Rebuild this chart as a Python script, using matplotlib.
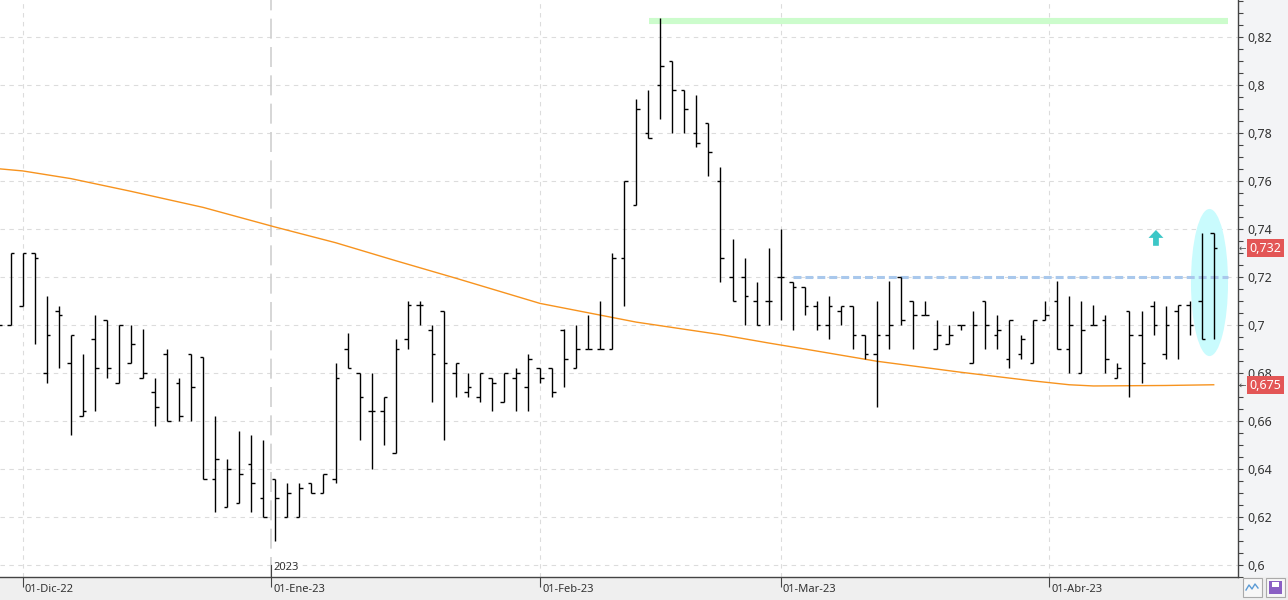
import matplotlib; matplotlib.use("Agg")
import matplotlib.pyplot as plt
from matplotlib.patches import Ellipse, Polygon, Rectangle
import numpy as np

plt.rcParams['font.family'] = ['Noto Sans', 'DejaVu Sans']

# OHLC diario (indice de sesion, 0 = 29-Nov-22)
opens  = [0.700,0.700,0.708,0.730,0.680,0.706,0.684,0.662,0.694,0.702,0.676,0.684,0.678,0.672,0.688,0.676,0.688,0.6865,0.636,0.624,
          0.626,0.642,0.628,0.636,0.620,0.620,0.634,0.630,0.636,0.690,0.680,0.664,0.664,0.6465,0.694,0.7085,0.698,0.706,0.680,0.672,
          0.670,0.678,0.668,0.678,0.674,0.682,0.682,0.698,0.682,0.690,0.690,0.690,0.728,0.750,0.780,0.800,0.810,0.798,0.780,0.784,
          0.760,0.720,0.720,0.710,0.710,0.720,0.718,0.716,0.708,0.700,0.706,0.708,0.696,0.688,0.696,0.720,0.710,0.704,0.690,0.692,
          0.700,0.684,0.710,0.696,0.686,0.688,0.684,0.702,0.710,0.690,0.680,0.700,0.702,0.678,0.706,0.696,0.708,0.688,0.706,0.7085,
          0.710,0.7385]
highs  = [0.700,0.730,0.730,0.730,0.712,0.708,0.696,0.688,0.704,0.702,0.700,0.700,0.6985,0.678,0.690,0.678,0.688,0.6865,0.662,0.644,
          0.656,0.654,0.652,0.636,0.634,0.634,0.634,0.638,0.684,0.6965,0.680,0.680,0.670,0.694,0.710,0.710,0.700,0.706,0.684,0.680,
          0.680,0.678,0.680,0.682,0.688,0.682,0.682,0.6985,0.700,0.704,0.710,0.730,0.760,0.794,0.798,0.828,0.810,0.798,0.796,0.784,
          0.766,0.736,0.728,0.718,0.732,0.740,0.718,0.716,0.710,0.712,0.708,0.708,0.696,0.710,0.7185,0.720,0.710,0.710,0.702,0.700,
          0.700,0.706,0.710,0.704,0.702,0.696,0.702,0.710,0.7185,0.712,0.710,0.7085,0.704,0.684,0.706,0.706,0.710,0.708,0.7085,0.710,
          0.7385,0.7385]
lows   = [0.700,0.700,0.708,0.692,0.676,0.682,0.654,0.662,0.664,0.678,0.676,0.684,0.678,0.658,0.660,0.660,0.660,0.636,0.622,0.624,
          0.626,0.622,0.620,0.610,0.620,0.620,0.630,0.630,0.634,0.682,0.652,0.640,0.650,0.6465,0.690,0.700,0.668,0.652,0.670,0.670,
          0.668,0.664,0.668,0.664,0.664,0.676,0.670,0.674,0.682,0.690,0.690,0.690,0.708,0.750,0.778,0.786,0.780,0.780,0.774,0.762,
          0.718,0.710,0.700,0.700,0.700,0.702,0.698,0.704,0.698,0.694,0.700,0.690,0.686,0.666,0.690,0.700,0.690,0.704,0.690,0.692,
          0.698,0.684,0.690,0.690,0.682,0.686,0.684,0.702,0.690,0.680,0.680,0.700,0.680,0.678,0.670,0.676,0.696,0.686,0.686,0.696,
          0.694,0.694]
closes = [0.700,0.730,0.730,0.728,0.696,0.704,0.696,0.664,0.682,0.682,0.700,0.692,0.680,0.666,0.660,0.662,0.674,0.636,0.644,0.640,
          0.638,0.634,0.620,0.628,0.630,0.632,0.630,0.638,0.678,0.682,0.670,0.664,0.670,0.690,0.7085,0.7085,0.688,0.684,0.684,0.674,
          0.680,0.676,0.680,0.680,0.686,0.678,0.672,0.686,0.690,0.690,0.690,0.728,0.760,0.790,0.778,0.808,0.798,0.790,0.776,0.772,
          0.728,0.710,0.712,0.700,0.710,0.720,0.716,0.708,0.700,0.708,0.708,0.696,0.688,0.696,0.700,0.702,0.704,0.704,0.696,0.696,
          0.700,0.700,0.700,0.698,0.702,0.694,0.702,0.704,0.690,0.700,0.698,0.700,0.686,0.682,0.696,0.684,0.700,0.700,0.7085,0.700,
          0.694,0.732]

# media movil 200 sesiones (puntos leidos)
ma_idx = [0, 2, 6, 11, 17, 23, 28, 33, 38, 45, 53, 60, 64, 67, 73, 80, 86, 89, 91, 97, 101]
ma_val = [0.7651,0.7642,0.7610,0.7557,0.7490,0.7408,0.7343,0.7268,0.7195,0.7090,0.7012,0.6960,0.6925,0.6900,0.6849,0.6803,
          0.6767,0.6751,0.6746,0.6748,0.6751]

month_pos = [2, 22.67, 45, 65, 87.33]
month_lab = ["01-Dic-22", "01-Ene-23", "01-Feb-23", "01-Mar-23", "01-Abr-23"]
yticks = np.round(np.arange(0.60, 0.821, 0.02), 2)
last_price, ma_last = 0.732, 0.675
resist, resist_from = 0.72, 66.06
top_line, top_from = 0.8268, 54.05
x_end = 102.2

W, H = 1288, 600
fig = plt.figure(figsize=(W/100, H/100), dpi=100, facecolor="#f3f4f6")
fig.patches.append(Rectangle((0, 0), 1, 23/H, transform=fig.transFigure, color="#efefef", zorder=-5))
ax = fig.add_axes([0, 23/H, 1238/W, 577/H], facecolor="white")
ax.set_xlim(0.11, 103.02); ax.set_ylim(0.595, 0.83542)

# grid
for y in yticks:
    ax.axhline(y, color="#dcdcdc", lw=0.8, ls=(0, (4, 4)), zorder=0)
for p, lab in zip(month_pos, month_lab):
    if lab.startswith("01-Ene"):
        ax.axvline(p, color="#cfcfcf", lw=1.2, ls=(0, (12, 5)), zorder=0)
    else:
        ax.axvline(p, color="#dcdcdc", lw=0.8, ls=(0, (4, 4)), zorder=0)

ax.add_patch(Ellipse((100.65, 0.7177), 3.08, 0.0613, color="#c9fbfd", lw=0, zorder=1))
ax.hlines(top_line, top_from, x_end, color="#ccfccc", lw=4.4, zorder=1)
ax.hlines(resist, resist_from, x_end, color="#a9c8ec", lw=2.2, ls=(0, (2.6, 1.3)), zorder=2)
ax.plot(ma_idx, ma_val, color="#f7931e", lw=1.0, zorder=2)

x = np.arange(len(opens)); tk = 0.3
ax.vlines(x, lows, highs, color="black", lw=1.0, zorder=3)
ax.hlines(opens, x - tk, x, color="black", lw=1.0, zorder=3)
ax.hlines(closes, x, x + tk, color="black", lw=1.0, zorder=3)

# flecha de subida
ax_x, y0, y1, ym = 96.2, 0.7330, 0.7396, 0.7363
ax.add_patch(Polygon([(ax_x-0.24, y0), (ax_x+0.24, y0), (ax_x+0.24, ym), (ax_x+0.62, ym), (ax_x, y1),
                      (ax_x-0.62, ym), (ax_x-0.24, ym)], closed=True, color="#3cc7c7", lw=0, zorder=4))

# ejes
for s in ["top", "left"]: ax.spines[s].set_visible(False)
for s in ["right", "bottom"]: ax.spines[s].set_color("#444444"); ax.spines[s].set_linewidth(1.0)
ax.yaxis.tick_right()
ax.set_yticks(yticks)
ax.set_yticklabels([("%g" % v).replace(".", ",") for v in yticks], fontsize=9, color="#333333")
ax.set_yticks(np.arange(0.595, 0.836, 0.005), minor=True)
ax.tick_params(axis="y", which="both", direction="out", length=3.5, width=0.8, color="#444444", pad=3)
ax.set_xticks(month_pos); ax.set_xticks([], minor=True)
ax.tick_params(axis="x", direction="out", length=7, width=0.8, color="#444444", labelbottom=False)
for p, lab in zip(month_pos, month_lab):
    ax.annotate(lab, (p, 0), xycoords=("data", "axes fraction"), xytext=(1.5, -9), textcoords="offset points",
                ha="left", va="center", fontsize=8, color="#333333", annotation_clip=False)
ax.axvline(month_pos[1], ymin=0, ymax=12/577, color="#444444", lw=0.8)
ax.annotate("2023", (month_pos[1], 0), xycoords=("data", "axes fraction"), xytext=(1.5, 6.5), textcoords="offset points",
            ha="left", va="center", fontsize=8, color="#333333", annotation_clip=False)

for v in (last_price, ma_last):
    ax.annotate(("%g" % v).replace(".", ","), (1, v), xycoords=ax.get_yaxis_transform(), xytext=(8.5, 0),
                textcoords="offset points", ha="left", va="center", fontsize=9, color="white", annotation_clip=False,
                bbox=dict(boxstyle="square,pad=0.2", fc="#e35656", ec="none"))
    ax.annotate("\u2190", (1, v), xycoords=ax.get_yaxis_transform(), xytext=(0.5, 0), textcoords="offset points",
                ha="left", va="center", fontsize=6.5, color="#555555", annotation_clip=False)

# iconos abajo a la derecha
fig.patches.append(Rectangle((1243/W, 3/H), 19/W, 19/H, transform=fig.transFigure, fc="#f7f7f7", ec="#aaaaaa", lw=0.8))
fig.patches.append(Rectangle((1266/W, 3/H), 19/W, 19/H, transform=fig.transFigure, fc="#f7f7f7", ec="#aaaaaa", lw=0.8))
fig.patches.append(Rectangle((1269/W, 6/H), 13/W, 13/H, transform=fig.transFigure, fc="#8a5fc4", ec="none"))
fig.patches.append(Rectangle((1272/W, 13/H), 7/W, 5/H, transform=fig.transFigure, fc="white", ec="none"))
fig.lines.append(plt.Line2D([1246/W, 1249/W, 1252/W, 1255/W, 1258/W], [10/H, 15/H, 11/H, 16/H, 12/H],
                            transform=fig.transFigure, color="#5b9bd5", lw=1.0))

fig.savefig("out.png", dpi=100, facecolor=fig.get_facecolor())
